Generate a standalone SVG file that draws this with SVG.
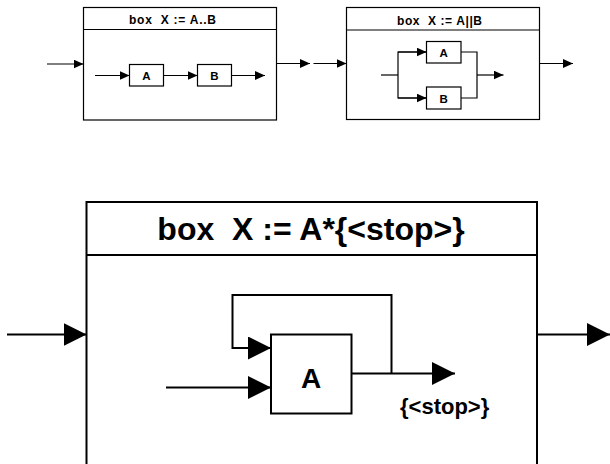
<svg xmlns="http://www.w3.org/2000/svg" width="610" height="464" viewBox="0 0 610 464">
<style>
.bx{fill:#fff;stroke:#000;stroke-width:1.2}
.bg{fill:#fff;stroke:#000;stroke-width:2}
.ln{fill:none;stroke:#000;stroke-width:1.2}
.lb{fill:none;stroke:#000;stroke-width:2}
.t{font-family:"Liberation Sans",Arial,sans-serif;font-weight:bold;fill:#000}
</style>
<defs>
<marker id="ah" markerUnits="userSpaceOnUse" markerWidth="11" markerHeight="10" refX="10" refY="4.5" orient="auto" viewBox="0 0 11 10">
<path d="M0,0 L10,4.5 L0,9 z" fill="#000"/>
</marker>
<marker id="AH" markerUnits="userSpaceOnUse" markerWidth="24" markerHeight="24" refX="23" refY="11.5" orient="auto" viewBox="0 0 24 24">
<path d="M0,0 L23,11.5 L0,23 z" fill="#000"/>
</marker>
</defs>

<g id="box-seq">
<rect class="bx" x="83.5" y="7.5" width="193" height="112.5"/>
<line class="ln" x1="83.5" y1="29.5" x2="276.5" y2="29.5"/>
<text class="t" x="129" y="24" font-size="12" textLength="87" lengthAdjust="spacing" xml:space="preserve">box  X := A..B</text>
</g>
<g id="seq-A">
<rect class="bx" x="129.5" y="64.5" width="34" height="21.5"/>
<text class="t" x="146.5" y="79.5" font-size="11.5" text-anchor="middle">A</text>
</g>
<g id="seq-B">
<rect class="bx" x="197.5" y="64.5" width="34" height="21.5"/>
<text class="t" x="214.5" y="79.5" font-size="11.5" text-anchor="middle">B</text>
</g>

<g id="box-par">
<rect class="bx" x="346.5" y="7.5" width="193" height="112"/>
<line class="ln" x1="346.5" y1="30" x2="539.5" y2="30"/>
<text class="t" x="397" y="24.5" font-size="12" textLength="85" lengthAdjust="spacing" xml:space="preserve">box  X := A||B</text>
</g>
<g id="par-A">
<rect class="bx" x="426.5" y="41.5" width="34.5" height="21.5"/>
<text class="t" x="443.7" y="56.5" font-size="11.5" text-anchor="middle">A</text>
</g>
<g id="par-B">
<rect class="bx" x="426.5" y="87" width="34.5" height="22"/>
<text class="t" x="443.7" y="102.5" font-size="11.5" text-anchor="middle">B</text>
</g>

<g id="box-loop">
<rect class="bg" x="86.5" y="202" width="450.5" height="280"/>
<line class="lb" x1="86.5" y1="255" x2="537" y2="255"/>
<text class="t" x="311" y="240" font-size="32" text-anchor="middle" xml:space="preserve">box  X := A*{&lt;stop&gt;}</text>
</g>
<g id="loop-A">
<rect class="bg" x="271" y="334.5" width="80.5" height="79"/>
<text class="t" x="311" y="387.5" font-size="28" text-anchor="middle">A</text>
</g>
<g id="stop-label">
<text class="t" x="400" y="414" font-size="22">{&lt;stop&gt;}</text>
</g>

<g id="connectors">
<line class="ln" x1="47" y1="64" x2="83.5" y2="64" marker-end="url(#ah)"/>
<line class="ln" x1="95" y1="75.5" x2="129.5" y2="75.5" marker-end="url(#ah)"/>
<line class="ln" x1="163.5" y1="75.5" x2="197.5" y2="75.5" marker-end="url(#ah)"/>
<line class="ln" x1="231.5" y1="75.5" x2="265" y2="75.5" marker-end="url(#ah)"/>
<line class="ln" x1="276.5" y1="63.5" x2="310" y2="63.5" marker-end="url(#ah)"/>
<line class="ln" x1="313.5" y1="63.5" x2="346.5" y2="63.5" marker-end="url(#ah)"/>
<line class="ln" x1="539.5" y1="63.5" x2="573" y2="63.5" marker-end="url(#ah)"/>
<line class="ln" x1="381" y1="75" x2="398" y2="75"/>
<polyline class="ln" points="426.5,52 398,52 398,98 426.5,98"/>
<line class="ln" x1="398" y1="52" x2="426.5" y2="52" marker-end="url(#ah)"/>
<line class="ln" x1="398" y1="98" x2="426.5" y2="98" marker-end="url(#ah)"/>
<polyline class="ln" points="461,52 477,52 477,98 461,98"/>
<line class="ln" x1="477" y1="75" x2="503.5" y2="75" marker-end="url(#ah)"/>
<line class="lb" x1="7" y1="334.5" x2="86.5" y2="334.5" marker-end="url(#AH)"/>
<line class="lb" x1="537" y1="334.5" x2="610" y2="334.5" marker-end="url(#AH)"/>
<line class="lb" x1="166" y1="387.5" x2="271" y2="387.5" marker-end="url(#AH)"/>
<polyline class="lb" points="391.5,373.5 391.5,295 232.5,295 232.5,348 250,348"/>
<line class="lb" x1="232.5" y1="348" x2="271" y2="348" marker-end="url(#AH)"/>
<line class="lb" x1="351.5" y1="373.5" x2="455" y2="373.5" marker-end="url(#AH)"/>
</g>
</svg>
